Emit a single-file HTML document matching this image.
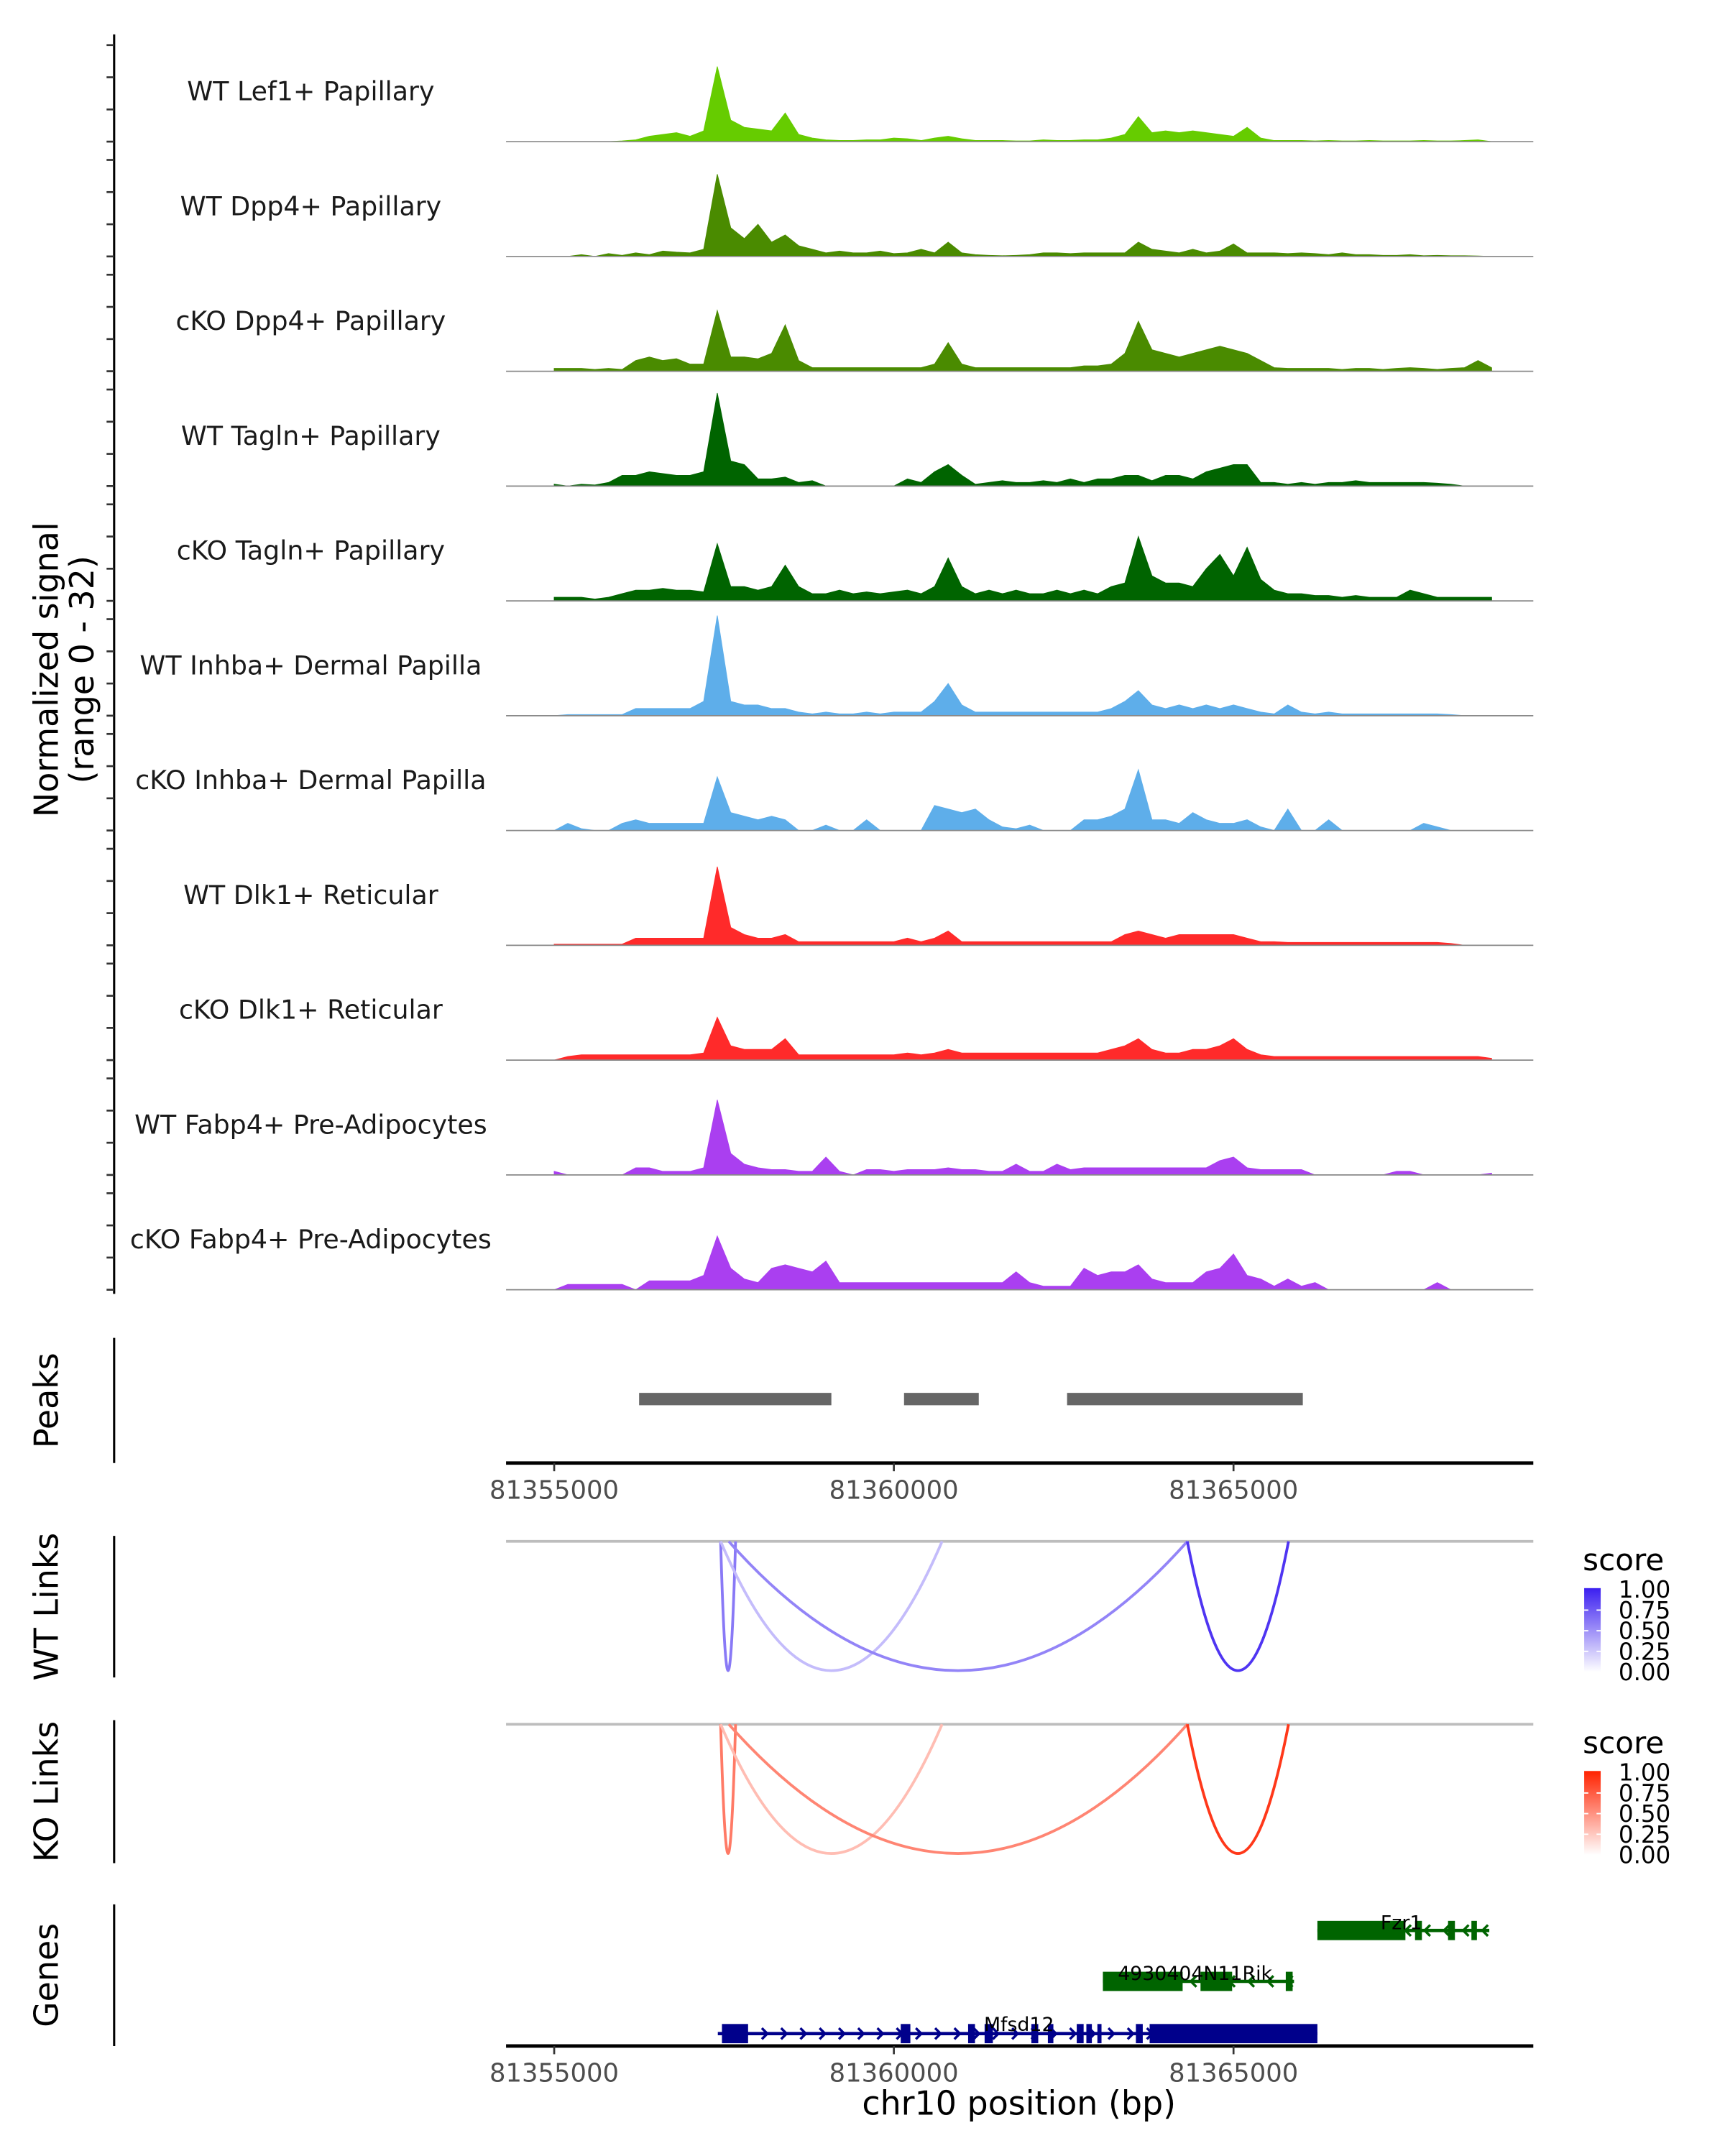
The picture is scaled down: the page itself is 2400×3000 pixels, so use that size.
<!DOCTYPE html>
<html><head><meta charset="utf-8"><style>
html,body{margin:0;padding:0;background:#fff;}
svg{display:block;font-family:"DejaVu Sans","Liberation Sans",sans-serif;}
</style></head><body>
<svg id="fig" width="2400" height="3000" viewBox="0 0 1254.4 1568" preserveAspectRatio="none" xmlns="http://www.w3.org/2000/svg">
<g id="tracks"></g>
<g id="peaks"></g>
<g id="links"></g>
<g id="genes"></g>
</svg>
<script>
const trackNames = ["WT Lef1+ Papillary","WT Dpp4+ Papillary","cKO Dpp4+ Papillary","WT Tagln+ Papillary","cKO Tagln+ Papillary","WT Inhba+ Dermal Papilla","cKO Inhba+ Dermal Papilla","WT Dlk1+ Reticular","cKO Dlk1+ Reticular","WT Fabp4+ Pre-Adipocytes","cKO Fabp4+ Pre-Adipocytes"];
const trackColors = ["#66cc00","#4a8b00","#4a8b00","#006400","#006400","#5eaeea","#5eaeea","#ff2a2a","#ff2a2a","#aa3ff0","#aa3ff0"];
const binStart = 81355000, binSize = 200;
const sigLef1 = [0,0,0,0,0,0.2,0.5,1.5,2,2.5, 1.5,3,21,6,4,3.5,3,8,2,1, 0.5,0.3,0.3,0.5,0.5,1,0.8,0.3,1,1.5, 0.8,0.3,0.3,0.3,0.2,0.2,0.5,0.3,0.3,0.5, 0.5,1,2,7,2.5,3,2.5,3,2.5,2, 1.5,4,1,0.3,0.3,0.3,0.2,0.3,0.2,0.2, 0.3,0.2,0.2,0.2,0.3,0.2,0.2,0.3,0.5,0];
const sigWTDpp4 = [0,0,0.5,0,0.8,0.3,1,0.5,1.5,1.2, 1,2,23,8,5,9,4,6,3,2, 1,1.5,1,1,1.5,0.8,1,2,1,4, 1,0.5,0.3,0.2,0.3,0.5,1,1,0.8,1, 1,1,1,4,2,1.5,1,2,1,1.5, 3.5,1,1,1,0.8,1,0.8,0.5,1,0.5, 0.5,0.3,0.3,0.5,0.2,0.3,0.2,0.2,0.1,0];
const sigKODpp4 = [0.8,0.8,0.8,0.5,0.8,0.5,3,4,3,3.5, 2,2,17,4,4,3.5,5,13,3,1, 1,1,1,1,1,1,1,1,2,8, 2,1,1,1,1,1,1,1,1,1.5, 1.5,2,5,14,6,5,4,5,6,7, 6,5,3,1,0.8,0.8,0.8,0.8,0.5,0.8, 0.8,0.5,0.8,1,0.8,0.5,0.8,1,3,1];
const sigWTTagln = [0.5,0,0.5,0.3,1,3,3,4,3.5,3, 3,4,26,7,6,2,2,2.5,1,1.5, 0,0,0,0,0,0,2,1,4,6, 3,0.5,1,1.5,1,1,1.5,1,2,1, 2,2,3,3,1.5,3,3,2,4,5, 6,6,1,1,0.5,1,0.5,1,1,1.5, 1,1,1,1,1,0.8,0.5,0,0,0];
const sigKOTagln = [1,1,1,0.5,1,2,3,3,3.5,3, 3,2.5,16,4,4,3,4,10,4,2, 2,3,2,2.5,2,2.5,3,2,4,12, 4,2,3,2,3,2,2,3,2,3, 2,4,5,18,7,5,5,4,9,13, 7,15,6,3,2,2,1.5,1.5,1,1.5, 1,1,1,3,2,1,1,1,1,1];
const sigWTInhba = [0,0.3,0.3,0.3,0.3,0.3,2,2,2,2, 2,4,28,4,3,3,2,2,1,0.5, 1,0.5,0.5,1,0.5,1,1,1,4,9, 3,1,1,1,1,1,1,1,1,1, 1,2,4,7,3,2,3,2,3,2, 3,2,1,0.5,3,1,0.5,1,0.5,0.5, 0.5,0.5,0.5,0.5,0.5,0.5,0.3,0,0,0];
const sigKOInhba = [0,2,0.5,0,0,2,3,2,2,2, 2,2,15,5,4,3,4,3,0,0, 1.5,0,0,3,0,0,0,0,7,6, 5,6,3,1,0.5,1.5,0,0,0,3, 3,4,6,17,3,3,2,5,3,2, 2,3,1,0,6,0,0,3,0,0, 0,0,0,0,2,1,0,0,0,0];
const sigWTDlk1 = [0.3,0.3,0.3,0.3,0.3,0.3,2,2,2,2, 2,2,22,5,3,2,2,3,1,1, 1,1,1,1,1,1,2,1,2,4, 1,1,1,1,1,1,1,1,1,1, 1,1,3,4,3,2,3,3,3,3, 3,2,1,1,0.8,0.8,0.8,0.8,0.8,0.8, 0.8,0.8,0.8,0.8,0.8,0.8,0.5,0,0,0];
const sigKODlk1 = [0,1,1.5,1.5,1.5,1.5,1.5,1.5,1.5,1.5, 1.5,2,12,4,3,3,3,6,1.5,1.5, 1.5,1.5,1.5,1.5,1.5,1.5,2,1.5,2,3, 2,2,2,2,2,2,2,2,2,2, 2,3,4,6,3,2,2,3,3,4, 6,3,1.5,1,1,1,1,1,1,1, 1,1,1,1,1,1,1,1,1,0.5];
const sigWTFabp4 = [1,0,0,0,0,0,2,2,1,1, 1,2,21,6,3,2,1.5,1.5,1,1, 5,1,0,1.5,1.5,1,1.5,1.5,1.5,2, 1.5,1.5,1,1,3,1,1,3,1.5,2, 2,2,2,2,2,2,2,2,2,4, 5,2,1.5,1.5,1.5,1.5,0,0,0,0, 0,0,1,1,0,0,0,0,0,0.5];
const sigKOFabp4 = [0,1.5,1.5,1.5,1.5,1.5,0,2.5,2.5,2.5, 2.5,4,15,6,3,2,6,7,6,5, 8,2,2,2,2,2,2,2,2,2, 2,2,2,2,5,2,1,1,1,6, 4,5,5,7,3,2,2,2,5,6, 10,4,3,1,3,1,2,0,0,0, 0,0,0,0,0,2,0,0,0,0];
const signals = [sigLef1,sigWTDpp4,sigKODpp4,sigWTTagln,sigKOTagln,sigWTInhba,sigKOInhba,sigWTDlk1,sigKODlk1,sigWTFabp4,sigKOFabp4];
const peakStarts = [81356250,81360150,81362550];
const peakEnds = [81359080,81361250,81366020];
const xTicks = [81355000,81360000,81365000];
const linkStarts = [81357450,81357450,81357570,81364320];
const linkEnds = [81357670,81360710,81364320,81365810];
const linkScores = [0.6,0.3,0.55,0.9];
const legendTicks = ["1.00","0.75","0.50","0.25","0.00"];

const NS="http://www.w3.org/2000/svg";
function mk(tag, attrs, parent){const e=document.createElementNS(NS,tag);for(const k in attrs)e.setAttribute(k,attrs[k]);parent.appendChild(e);return e;}
const X0=368,X1=1115;
function xs(bp){return 403+(bp-81355000)*(247/5000);}
const vpx=2.6;
const TR=document.getElementById('tracks');
let ax=mk('line',{x1:83,y1:25,x2:83,y2:941,stroke:'#000','stroke-width':1.6},TR);


let yt=mk('text',{x:0,y:0,'font-size':24,'text-anchor':'middle',fill:'#000',transform:'translate(42,487) rotate(-90)'},TR);


yt.textContent='Normalized signal';
let yt2=mk('text',{x:0,y:0,'font-size':24,'text-anchor':'middle',fill:'#000',transform:'translate(68,487) rotate(-90)'},TR);


yt2.textContent='(range 0 - 32)';
signals.forEach((sig,k)=>{
  const base=103+k*83.5;
  const g=mk('g',{},TR);
  
  
  [0,9,18,27].forEach(v=>{const t=mk('line',{x1:77.5,x2:83,y1:base-v*vpx,y2:base-v*vpx,stroke:'#333','stroke-width':1.4},g);
    
    });
  const lb=mk('text',{x:226,y:base-30,'font-size':19,'text-anchor':'middle',fill:'#1a1a1a'},g);
  
  
  lb.textContent=trackNames[k];
  let pts=[];const n=sig.length;
  pts.push(xs(binStart)+','+base);
  for(let i=0;i<n;i++){pts.push(xs(binStart+i*binSize).toFixed(1)+','+(base-sig[i]*vpx).toFixed(1));}
  pts.push(xs(binStart+(n-1)*binSize)+','+base);
  const a=mk('polygon',{points:pts.join(' '),fill:trackColors[k],stroke:trackColors[k],'stroke-width':0.5,'stroke-linejoin':'miter'},g);
  
  
  const bl=mk('line',{x1:X0,x2:X1,y1:base,y2:base,stroke:'#888','stroke-width':0.9},g);
  
  
});
function xAxis(parent,y,name){
  const g=mk('g',{},parent);
  
  
  mk('line',{x1:X0,x2:X1,y1:y,y2:y,stroke:'#000','stroke-width':2.5},g);
  xTicks.forEach(t=>{
    mk('line',{x1:xs(t),x2:xs(t),y1:y,y2:y+6,stroke:'#333','stroke-width':1.4},g);
    const tx=mk('text',{x:xs(t),y:y+26,'font-size':18.5,'text-anchor':'middle',fill:'#4d4d4d'},g);
    
    
    tx.textContent=t;
  });
}
function sideTitle(parent,txt,y0,y1,name){
  const l=mk('line',{x1:83,x2:83,y1:y0,y2:y1,stroke:'#000','stroke-width':1.6},parent);
  
  
  const t=mk('text',{x:0,y:0,'font-size':24,'text-anchor':'middle',fill:'#000',transform:`translate(42,${(y0+y1)/2}) rotate(-90)`},parent);
  
  
  t.textContent=txt;
}
const PK=document.getElementById('peaks');
sideTitle(PK,'Peaks',973,1064,'peaks');
peakStarts.forEach((s,i)=>{const r=mk('rect',{x:xs(s),y:1013,width:xs(peakEnds[i])-xs(s),height:9,fill:'#666'},PK);
  
  });
xAxis(PK,1064,'peaks-x-axis');
const LK=document.getElementById('links');
function linkTrack(title,y0,y1,base,hi,name){
  const g=mk('g',{},LK);
  
  
  sideTitle(g,title,y0,y1,name);
  const bl=mk('line',{x1:X0,x2:X1,y1:base,y2:base,stroke:'#bdbdbd','stroke-width':2},g);
  
  
  const mix=s=>{const c=[255+(hi[0]-255)*s,255+(hi[1]-255)*s,255+(hi[2]-255)*s].map(Math.round);return `rgb(${c})`;};
  const depth=94;
  linkStarts.forEach((s,i)=>{
    const a=xs(s),b=xs(linkEnds[i]),m=(a+b)/2;
    const p=mk('path',{d:`M${a},${base} Q${m},${base+2*depth} ${b},${base}`,fill:'none',stroke:mix(linkScores[i]),'stroke-width':2},g);
    
    
  });
  const ly=base+34;
  const lt=mk('text',{x:1151,y:ly-13,'font-size':22,fill:'#000'},g);
  
  
  lt.textContent='score';
  const gid='grad'+name;
  const gr=mk('linearGradient',{id:gid,x1:0,y1:1,x2:0,y2:0},g);
  mk('stop',{offset:0,'stop-color':'#fff'},gr);mk('stop',{offset:1,'stop-color':mix(1)},gr);
  const cb=mk('rect',{x:1152,y:ly,width:12,height:61,fill:`url(#${gid})`},g);
  
  
  legendTicks.forEach((t,i)=>{
    const yy=ly+1+i*15;
    if(i>0&&i<4){mk('line',{x1:1152,x2:1155,y1:yy,y2:yy,stroke:'#fff'},g);mk('line',{x1:1161,x2:1164,y1:yy,y2:yy,stroke:'#fff'},g);}
    const tx=mk('text',{x:1177,y:yy+6,'font-size':17,fill:'#000'},g);
    
    
    tx.textContent=t;
  });
}
linkTrack('WT Links',1117,1220,1121,[59,31,240],'wt-links');
linkTrack('KO Links',1251,1355,1254,[255,34,0],'ko-links');
const GN=document.getElementById('genes');
sideTitle(GN,'Genes',1385,1488,'genes');
function gene(name,y,col,x0,x1,exons,dir,lx,ly){
  const g=mk('g',{},GN);
  
  
  mk('line',{x1:x0,x2:x1,y1:y,y2:y,stroke:col,'stroke-width':2.4},g);
  for(let x=x0+8;x<x1-4;x+=14){const d=dir*4;mk('polyline',{points:`${x-d},${y-4} ${x},${y} ${x-d},${y+4}`,fill:'none',stroke:col,'stroke-width':1.8},g);}
  exons.forEach(e=>mk('rect',{x:e[0],y:y-(e[2]||7),width:e[1]-e[0],height:2*(e[2]||7),fill:col},g));
  const t=mk('text',{x:lx,y:ly,'font-size':14,'text-anchor':'middle',fill:'#000'},g);
  
  
  t.textContent=name;
}
gene('Fzr1',1404,'#006400',958,1083,[[958,1022],[1029,1034],[1053,1058],[1070,1074]],-1,1019,1403);
gene('4930404N11Rik',1441,'#006400',802,941,[[802,860],[873,896],[935,940]],-1,869,1440);
gene('Mfsd12',1479,'#00008b',522,958,[[525,544],[655,662],[704,709],[716,722],[750,755],[762,766],[783,788],[790,794],[798,801],[826,831],[836,958]],1,741,1477);
xAxis(GN,1488,'genes-x-axis');
const xt=mk('text',{x:741,y:1538,'font-size':24,'text-anchor':'middle',fill:'#000'},GN);


xt.textContent='chr10 position (bp)';
</script>
</body></html>
